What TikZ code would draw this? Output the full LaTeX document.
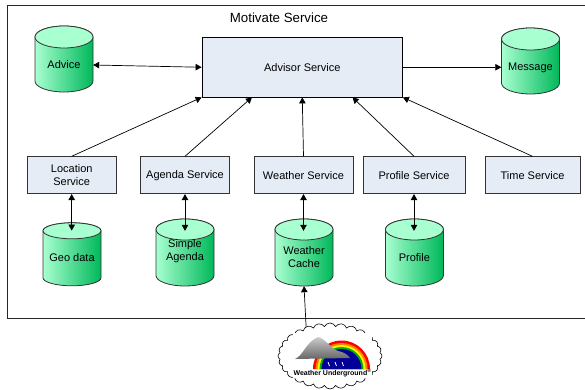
\documentclass[tikz,border=0pt]{standalone}
\usepackage{fontspec}
\setmainfont{Liberation Sans}
\usetikzlibrary{arrows.meta,shapes.symbols,calc}
\definecolor{boxfill}{HTML}{E6ECF6}
\definecolor{storelight}{HTML}{A8FFD0}
\definecolor{storedark}{HTML}{00B85A}
\tikzset{
  service/.style={draw=black!80,fill=boxfill,line width=.8pt,inner sep=0pt,minimum height=37pt,align=center},
  storenode/.style={inner sep=0pt,minimum width=58pt},
  storetext/.style={inner sep=0pt,align=center},
  link/.style={line width=.7pt,-{Triangle[length=6pt,width=6.5pt]}},
  biglink/.style={line width=.7pt,{Triangle[length=6pt,width=6.5pt]}-{Triangle[length=6pt,width=6.5pt]}},
}
% name, x, y, height, end radius, text shift, text
\newcommand{\store}[7]{
\begin{scope}[shift={(#2,#3)}]
\shade[left color=storelight,right color=storedark,draw=black!80,line width=.8pt]
  (-29,{#4/2-#5}) -- (-29,{-#4/2+#5}) arc (180:360:29 and #5) -- (29,{#4/2-#5}) arc (0:180:29 and #5) -- cycle;
\draw[fill=storelight,draw=black!80,line width=.8pt] (0,{#4/2-#5}) ellipse (29 and #5);
\node[storenode,minimum height=#4] (#1) at (0,0) {};
\node[storetext] (#1text) at (0,#6) {#7};
\end{scope}
}
\begin{document}
\begin{tikzpicture}[x=1pt,y=1pt,font=\fontsize{11}{13}\selectfont]
\useasboundingbox (0,0) rectangle (585,389);
%Rahmen
\draw[line width=.8pt,black!85] (590,384) -- (7.5,384) -- (7.5,71) -- (590,71);
\node[font=\fontsize{13.3}{15}\selectfont] (title) at (279,371) {Motivate Service};
%Services
\node[service,draw=black,minimum width=200.5pt,minimum height=59.5pt] (advisor) at (302.25,321.75) {Advisor Service};
\node[service,minimum width=89.3pt] (location) at (71.7,213.8) {Location\\Service};
\node[service,minimum width=89.3pt] (agenda) at (185,213.8) {Agenda Service};
\node[service,minimum width=99pt] (weather) at (303.5,213.8) {Weather Service};
\node[service,minimum width=102pt] (profile) at (414,213.8) {Profile Service};
\node[service,minimum width=95pt] (time) at (532.5,213.8) {Time Service};
%Speicher
\store{advice}{64}{330}{66}{11}{-6}{Advice}
\store{message}{530.5}{328}{66}{11}{-7}{Message}
\store{geo}{72}{134.7}{63}{8}{-3.4}{Geo data}
\store{simple}{185}{136.5}{67}{10.5}{1}{Simple\\Agenda}
\store{cache}{304}{136.5}{67}{10.5}{-5}{Weather\\Cache}
\store{prof}{414.4}{136.5}{67}{10.5}{-5}{Profile}
%Wolke
\node[cloud,draw,fill=white,line width=.6pt,cloud puffs=28,cloud puff arc=130,minimum width=104pt,minimum height=66pt,inner sep=0pt] (cloud) at (330,33) {};
\fill[white] (293,11) rectangle (372,56);
\foreach \r/\c in {28.5/red,26/orange,24/yellow,22/green!70!black,20/blue!60!black}
  \fill[\c] ({341.5-\r},20) arc (180:0:\r) -- cycle;
\shade[top color=black!20,bottom color=black!60] (295,30) .. controls (303,33) and (306,47) .. (318,52) .. controls (326,50) and (330,41) .. (338,38) .. controls (344,37) and (348,34) .. (350,31) -- cycle;
\foreach \x in {328,335,342}
  \draw[white,line width=.8pt] (\x,27) -- ({\x+1.5},23);
\node[inner sep=0pt,font=\fontsize{7}{8}\bfseries\selectfont] (logo) at (332.5,16) {Weather Underground\textsuperscript{®}};
%Verbindungen
\draw[biglink] (advicetext -| advice.east) -- (advisor.west);
\draw[link] (advisor.east) -- (advisor.east -| message.west);
\draw[link] (location.north) -- (advisor.south west);
\draw[link] (agenda.north) -- ($(advisor.south west)!.25!(advisor.south east)$);
\draw[link] (weather.north) -- (advisor.south);
\draw[link] (profile.north) -- ($(advisor.south west)!.75!(advisor.south east)$);
\draw[link] (time.north) -- (advisor.south east);
\draw[biglink,shorten >=-8pt] (location.south) -- (location.south |- geo.north);
\draw[biglink,shorten >=-12pt] (agenda.south) -- (agenda.south |- simple.north);
\draw[biglink,shorten >=-12pt] (weather.south) -- (weather.south |- cache.north);
\draw[biglink,shorten >=-12pt] (profile.south) -- (profile.south |- prof.north);
\draw[link] (cloud.129) -- (cache.south);
\end{tikzpicture}
\end{document}
